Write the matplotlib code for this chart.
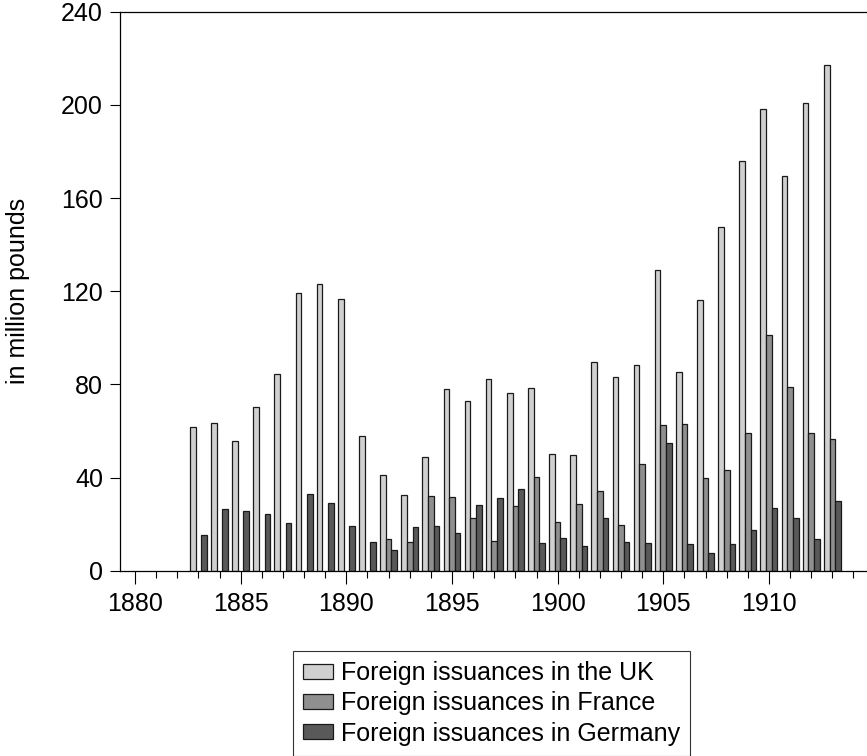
import numpy as np
import matplotlib
matplotlib.use("Agg")
import matplotlib.pyplot as plt
from matplotlib.ticker import MultipleLocator

plt.rcParams['font.family'] = ['Liberation Sans', 'DejaVu Sans']

years = list(range(1883, 1914))

uk = [61.6, 63.3, 55.6, 70.3, 84.6, 119.1, 123.0, 116.7, 57.8, 41.0,
      32.5, 48.7, 77.9, 72.7, 82.3, 76.4, 78.3, 50.2, 49.7, 89.5,
      83.0, 88.2, 129.0, 85.2, 116.4, 147.4, 175.7, 198.1, 169.3, 200.7,
      217.3]

france = [np.nan] * 9 + [13.5, 12.3, 32.1, 31.6, 22.5, 12.9, 27.9, 40.1,
                         21.0, 28.5, 34.1, 19.5, 45.7, 62.6, 63.1, 39.7,
                         43.1, 59.0, 101.4, 78.8, 59.3, 56.6]

germany = [15.2, 26.4, 25.5, 24.2, 20.3, 33.1, 28.9, 19.3, 12.3, 8.9,
           18.8, 19.2, 16.0, 28.2, 31.3, 35.1, 11.8, 13.9, 10.7, 22.6,
           12.2, 11.8, 54.7, 11.3, 7.8, 11.5, 17.3, 27.0, 22.8, 13.5,
           29.8]

series = [
    ("Foreign issuances in the UK", uk, "#d0d0d0"),
    ("Foreign issuances in France", france, "#8f8f8f"),
    ("Foreign issuances in Germany", germany, "#595959"),
]

fig = plt.figure(figsize=(8.67, 7.56), dpi=100)
ax = fig.add_axes([120 / 867, 185.3 / 756, 747 / 867, 559 / 756])

x = np.array(years, dtype=float)
width = 0.8 / 3
for i, (label, vals, color) in enumerate(series):
    v = np.array(vals, dtype=float)
    ok = ~np.isnan(v)
    ax.bar(x[ok] + (i - 1) * width, v[ok], width=width, color=color,
           edgecolor="#1a1a1a", linewidth=0.9, label=label, zorder=2)

ax.set_xlim(1879.29, 1914.64)
ax.set_ylim(0, 240)
ax.set_yticks(range(0, 241, 40))
ax.set_xticks(range(1880, 1911, 5))
ax.xaxis.set_minor_locator(MultipleLocator(1))

ax.spines['right'].set_visible(False)
for s in ('left', 'top', 'bottom'):
    ax.spines[s].set_linewidth(0.9)
    ax.spines[s].set_color('black')

ax.tick_params(axis='y', which='major', length=7.2, width=0.8, pad=5,
               labelsize=18, direction='out')
ax.tick_params(axis='x', which='major', length=9, width=0.8, pad=6,
               labelsize=18, direction='out')
ax.tick_params(axis='x', which='minor', length=4.8, width=0.8,
               direction='out')

fig.text(18 / 867, 1 - 291 / 756, "in million pounds", rotation=90,
         ha='center', va='center', fontsize=18)

leg = fig.legend(loc='upper left', bbox_to_anchor=(293 / 867, 1 - 651 / 756),
                 fontsize=18, frameon=True, fancybox=False, borderaxespad=0,
                 handlelength=1.2, handleheight=0.54, handletextpad=0.31,
                 borderpad=0.4, labelspacing=0.25)
leg.get_frame().set_edgecolor('black')
leg.get_frame().set_linewidth(0.8)

fig.savefig("out.png", dpi=100)
